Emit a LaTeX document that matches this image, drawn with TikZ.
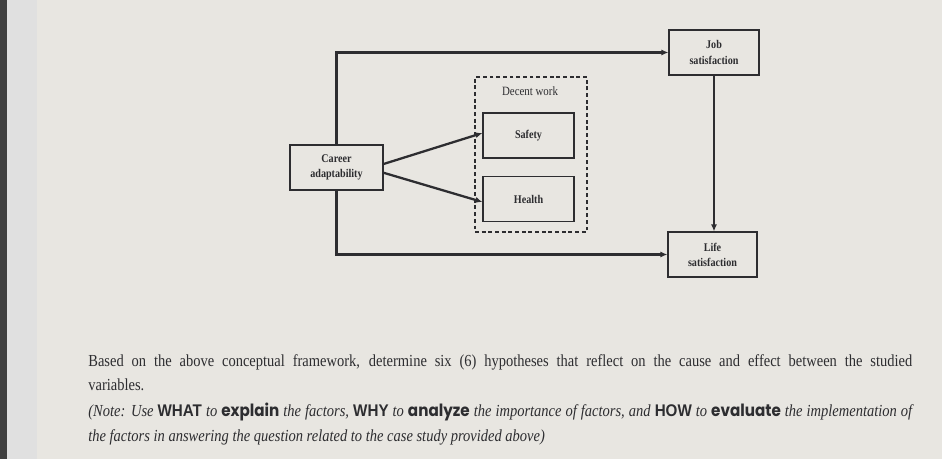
\documentclass[tikz,border=0pt]{standalone}
\usepackage{fontspec}
\setmainfont{Liberation Serif}[FakeStretch=0.86]
\newfontfamily\keysans{Liberation Sans}[FakeStretch=0.9]
\newfontfamily\verbfont{Poppins}[FakeStretch=0.9]
\usetikzlibrary{arrows.meta}
\definecolor{paper}{RGB}{232,230,225}
\definecolor{ink}{RGB}{45,45,48}

\begin{document}
\begin{tikzpicture}[x=0.02cm, y=-0.02cm, >={Latex[length=4pt,width=3.5pt]},
    varbox/.style={draw=ink, line width=0.7pt, fill=paper, align=center,
        font=\fontsize{6.7}{8.6}\selectfont\bfseries, text=ink,
        minimum width=1.82cm, minimum height=0.9cm, inner sep=1pt},
    flow/.style={->, draw=ink, line width=1.3pt},
    para/.style={anchor=base west, inner sep=0pt, text=ink,
        font=\fontsize{9.6}{11}\selectfont}]
    % ==== PAPER ====
    \fill[paper] (0,0) rectangle (942,459);
    \fill[black!75] (0,0) rectangle (7,459);
    \fill[black!12] (7,0) rectangle (37,459);
    \useasboundingbox (0,0) rectangle (942,459);
    % ==== VARIABLES ====
    \node[varbox, minimum width=1.86cm] (career) at (336.5,167.5) {Career\\adaptability};
    \node[varbox, minimum width=1.8cm] (job) at (714,52.5) {Job\\satisfaction};
    \node[varbox, minimum width=1.78cm] (life) at (712.5,254.5) {Life\\satisfaction};
    \node[draw=ink, dash pattern=on 2.2pt off 1.6pt, line width=0.7pt, minimum width=2.24cm,
        minimum height=3.1cm] (decent) at (531,154.5) {};
    \node[text=ink, font=\fontsize{7.2}{9}\selectfont] (decentlabel) at (530,91) {Decent work};
    \node[varbox] (safety) at (528.5,135.5) {Safety};
    \node[varbox] (health) at (528.5,199) {Health};
    % ==== PATHS ====
    \draw[flow] (career.north) |- (job.west);
    \draw[flow] (career.south) |- (life.west);
    \draw[flow, line width=0.9pt] (job.south) -- (job.south |- life.north);
    \draw[flow] ([yshift=2pt]career.east) -- ([yshift=1.4pt]safety.west);
    \draw[flow] ([yshift=-3pt]career.east) -- ([yshift=-1.7pt]health.west);
    % ==== QUESTION ====
    \node[para] (line1) at (88,366) {\makebox[16.48cm][s]{Based on the above conceptual framework, determine six (6) hypotheses that reflect on the cause and effect between the studied}};
    \node[para] (line2) at (88,390) {variables.};
    \node[para] (line3) at (88,416) {\makebox[16.48cm][s]{\itshape (Note: Use {\keysans\bfseries\upshape WHAT} to {\verbfont\bfseries\upshape explain} the factors, {\keysans\bfseries\upshape WHY} to {\verbfont\bfseries\upshape analyze} the importance of factors, and {\keysans\bfseries\upshape HOW} to {\verbfont\bfseries\upshape evaluate} the implementation of}};
    \node[para] (line4) at (88,441) {\itshape the factors in answering the question related to the case study provided above)};
\end{tikzpicture}
\end{document}
